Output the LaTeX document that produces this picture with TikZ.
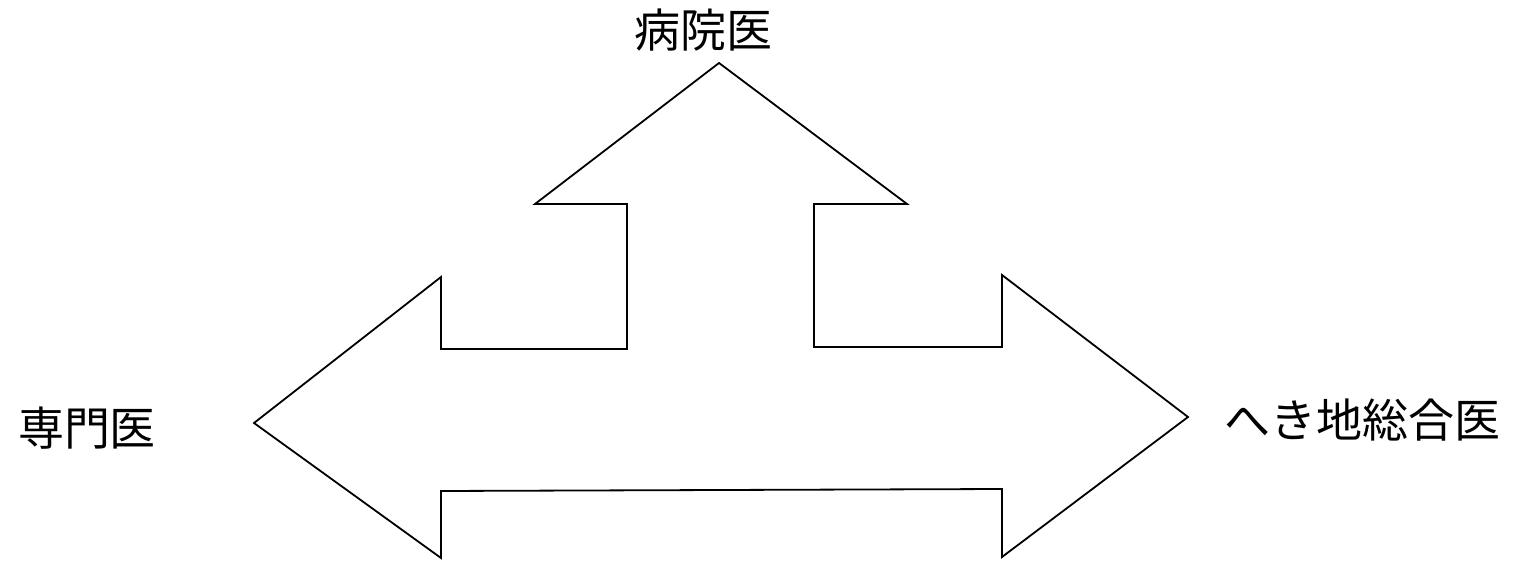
\documentclass[tikz,border=0pt]{standalone}
\usepackage{fontspec}
\newfontfamily\cjk{Noto Sans CJK JP}
\begin{document}
\begin{tikzpicture}[x=1pt,y=-1pt,
  outline/.style={draw=black,line width=1.8pt,line join=miter,fill=white},
  lbl/.style={font=\cjk\fontsize{46}{52}\selectfont,inner sep=0pt,anchor=center}]
\useasboundingbox (0,0) rectangle (1513,561);
\draw[outline] (719,63) -- (907,204) -- (814,204) -- (814,347) -- (1002,347)
  -- (1002,275) -- (1188,417) -- (1002,557) -- (1002,489) -- (441,491)
  -- (441,558) -- (254,423) -- (441,277) -- (441,349) -- (627,349)
  -- (627,204) -- (535,204) -- cycle;
\node[lbl] (top) at (703,30) {病院医};
\node[lbl] (left) at (87,428) {専門医};
\node[lbl] (right) at (1362,420) {へき地総合医};
\end{tikzpicture}
\end{document}
